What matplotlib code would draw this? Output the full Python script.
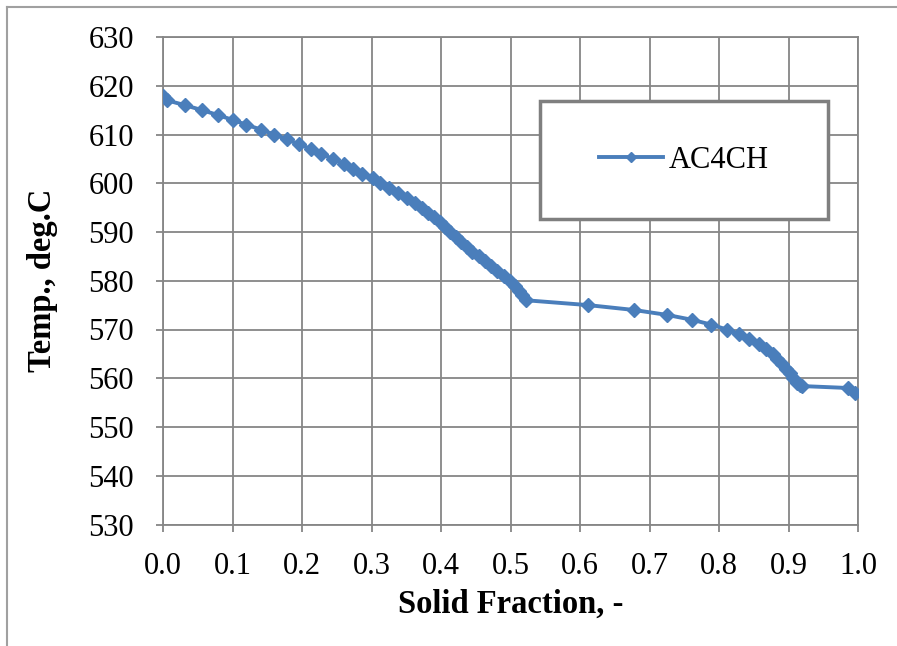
import matplotlib.pyplot as plt
from matplotlib.lines import Line2D
from matplotlib.patches import Rectangle

plt.rcParams['font.family'] = ['Liberation Serif', 'DejaVu Serif']

# solid fraction vs temperature
solid_frac = [0.000, 0.006, 0.032, 0.056, 0.079, 0.100, 0.120, 0.141, 0.160, 0.178,
              0.196, 0.213, 0.228, 0.244, 0.260, 0.273, 0.287, 0.302, 0.312, 0.325,
              0.338, 0.351, 0.363, 0.372, 0.381, 0.390, 0.398, 0.406, 0.413, 0.421,
              0.429, 0.437, 0.445, 0.454, 0.463, 0.472, 0.481, 0.490, 0.499, 0.506,
              0.512, 0.517, 0.522, 0.612, 0.678, 0.725, 0.761, 0.789, 0.811, 0.829,
              0.843, 0.857, 0.868, 0.877, 0.884, 0.891, 0.897, 0.902, 0.907, 0.912,
              0.916, 0.919, 0.986, 0.996]
temp = [618, 617, 616, 615, 614, 613, 612, 611, 610, 609,
        608, 607, 606, 605, 604, 603, 602, 601, 600, 599,
        598, 597, 596, 595, 594, 593, 592, 591, 590, 589,
        588, 587, 586, 585, 584, 583, 582, 581, 580, 579,
        578, 577, 576, 575, 574, 573, 572, 571, 570, 569,
        568, 567, 566, 565, 564, 563, 562, 561, 560, 559,
        558.6, 558.4, 558, 557]

x_ticks = [0.0, 0.1, 0.2, 0.3, 0.4, 0.5, 0.6, 0.7, 0.8, 0.9, 1.0]
y_ticks = list(range(530, 631, 10))

blue = '#4A7EBB'
grid_c = '#868686'

W, H = 897, 646
fig = plt.figure(figsize=(W/100, H/100), dpi=100)
ax = fig.add_axes([163/W, 1 - 524.5/H, (858 - 163)/W, (524.5 - 37)/H])

ax.plot(solid_frac, temp, color=blue, lw=2.8, marker='D', ms=7,
        mec=blue, mfc=blue, zorder=3)

ax.set_xlim(0, 1.0)
ax.set_ylim(530, 630)
ax.set_xticks(x_ticks)
ax.set_yticks(y_ticks)
ax.set_xticklabels(['%.1f' % v for v in x_ticks])
ax.grid(True, color=grid_c, lw=1.3)
ax.set_axisbelow(True)
for s in ax.spines.values():
    s.set_color(grid_c)
    s.set_linewidth(1.3)
ax.tick_params(axis='both', direction='out', length=5, color=grid_c,
               width=1.3, labelsize=22)
ax.tick_params(axis='x', pad=15)
ax.tick_params(axis='y', pad=16)

ax.set_xlabel('Solid Fraction, -', fontsize=23.5, fontweight='bold')
ax.set_ylabel('Temp., deg.C', fontsize=23.5, fontweight='bold')
ax.xaxis.set_label_coords(0.5, (524.5 - 589) / 487.5, transform=ax.transAxes)
ax.yaxis.set_label_coords((58 - 163) / 695, 0.5, transform=ax.transAxes)

# legend box like the Excel one
bx0, bx1, by0, by1 = 540, 828, 101, 219
box = Rectangle(((bx0 - 163)/695, (524.5 - by1)/487.5),
                (bx1 - bx0)/695, (by1 - by0)/487.5, transform=ax.transAxes,
                facecolor='white', edgecolor='#7f7f7f', lw=2.5, zorder=4)
ax.add_patch(box)
handle = Line2D([], [], color=blue, lw=2.8, marker='D', ms=5)
leg = ax.legend([handle], ['AC4CH'], loc='center',
                bbox_to_anchor=(((bx0 + bx1)/2 - 163)/695,
                                (524.5 - (by0 + by1)/2)/487.5),
                frameon=False, fontsize=22, handlelength=2.1,
                handletextpad=0.2)
leg.set_zorder(5)

# outer chart border (left and top visible)
fig.add_artist(Line2D([7/W, 7/W], [0, 1 - 7/H], color='#a0a0a0', lw=1.5))
fig.add_artist(Line2D([7/W, 1], [1 - 7/H, 1 - 7/H], color='#a0a0a0', lw=1.5))

fig.savefig('out.png', dpi=100)
